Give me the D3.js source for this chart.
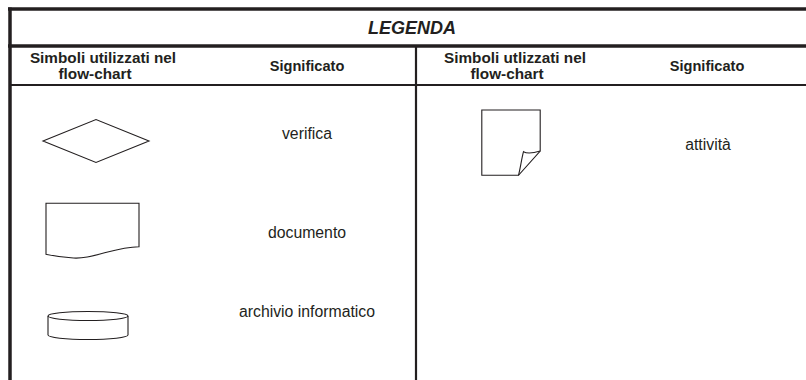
<!DOCTYPE html>
<html><head><meta charset="utf-8">
<script src="https://cdn.jsdelivr.net/npm/d3@7"></script>
<style>body{margin:0;background:#fff}svg{display:block}</style>
</head><body>
<svg id="c" width="806" height="380"></svg>
<script>
const title = "LEGENDA";
const headers = [["Simboli utilizzati nel","flow-chart"],["Significato"],["Simboli utlizzati nel","flow-chart"],["Significato"]];
const leftSymbols = ["decision","document","database"];
const leftMeanings = ["verifica","documento","archivio informatico"];
const rightSymbols = ["page"];
const rightMeanings = ["attività"];

const svg = d3.select("#c");
const W = 806, H = 380;
const font = "Liberation Sans, Arial, sans-serif";
const ink = "#231f20";

const colX = d3.scaleOrdinal().domain([0,1,2,3]).range([95,307,507,707]);

const g = svg.append("g").attr("stroke", ink);
g.append("line").attr("x1",8).attr("x2",W).attr("y1",9).attr("y2",9).attr("stroke-width",3.5);
g.append("line").attr("x1",8).attr("x2",W).attr("y1",46).attr("y2",46).attr("stroke-width",3.5);
g.append("line").attr("x1",10).attr("x2",W).attr("y1",85).attr("y2",85).attr("stroke-width",2);
g.append("line").attr("x1",10).attr("x2",10).attr("y1",7.5).attr("y2",H).attr("stroke-width",3.5);
g.append("line").attr("x1",416).attr("x2",416).attr("y1",46).attr("y2",H).attr("stroke-width",2.2);

svg.append("text").attr("x",412).attr("y",34).attr("text-anchor","middle")
  .attr("font-family",font).attr("font-size",18).attr("font-weight","bold").attr("font-style","italic")
  .attr("fill",ink).text(title);

headers.forEach((lines,i)=>{
  const t = svg.append("text").attr("text-anchor","middle").attr("font-family",font)
    .attr("font-weight","bold").attr("fill",ink);
  if(lines.length===2){
    t.attr("font-size",15.3);
    t.append("tspan").attr("x",colX(i)+8).attr("y",63).text(lines[0]);
    t.append("tspan").attr("x",colX(i)).attr("y",79).text(lines[1]);
  } else {
    t.attr("font-size",14.6);
    t.append("tspan").attr("x",colX(i)).attr("y",71).text(lines[0]);
  }
});

const rowY = d3.scaleOrdinal().domain(leftSymbols.concat(rightSymbols)).range([141,229,325,143]);
const textY = d3.scaleOrdinal().domain(leftMeanings.concat(rightMeanings)).range([139,238,317,150]);

const shapes = {
  decision: (s,cx,cy)=> s.append("path").attr("d",`M${cx-53},${cy} L${cx},${cy-21.5} L${cx+53},${cy} L${cx},${cy+21.5} Z`),
  document: (s,cx,cy)=>{
    const x0=cx-46.5,x1=cx+46.5,y0=cy-25.7;
    s.append("path").attr("d",`M${x0},${y0} L${x1},${y0} L${x1},${y0+43.4} C${x1-25},${y0+43.5} ${x0+45},${y0+57} ${x0+25},${y0+54.5} C${x0+12},${y0+53.5} ${x0+5},${y0+52} ${x0},${y0+51} Z`);
  },
  database: (s,cx,cy)=>{
    const x0=cx-40,x1=cx+40,ty=cy-9,by=cy+10,rx=40,ry=4.5;
    s.append("path").attr("d",`M${x0},${ty} L${x0},${by} A${rx},${ry} 0 0 0 ${x1},${by} L${x1},${ty}`);
    s.append("ellipse").attr("cx",cx).attr("cy",ty).attr("rx",rx).attr("ry",ry);
  },
  page: (s,cx,cy)=>{
    const x0=cx-29.2,x1=cx+29.2,y0=cy-33,y1=cy+32.3,fx=x1-21.7,fy=y1-24.3;
    s.append("path").attr("d",`M${x0},${y0} L${x1},${y0} L${x1},${fy} L${fx},${y1} L${x0},${y1} Z`);
    s.append("path").attr("d",`M${fx},${y1} C${fx+2},${y1-8} ${fx+3},${y1-16} ${fx+5},${fy+0.7} C${fx+9},${fy+3} ${fx+15},${fy+2} ${x1},${fy}`);
  }
};

const shapeG = svg.append("g").attr("fill","none").attr("stroke",ink).attr("stroke-width",1.1);
const symX = {decision:96, document:92.5, database:88, page:511};
leftSymbols.concat(rightSymbols).forEach(k=> shapes[k](shapeG, symX[k], rowY(k)));

const txt = svg.append("g").attr("font-family",font).attr("font-size",15.8).attr("fill",ink).attr("text-anchor","middle");
leftMeanings.forEach(m=> txt.append("text").attr("x",colX(1)).attr("y",textY(m)).text(m));
rightMeanings.forEach(m=> txt.append("text").attr("x",colX(3)+1).attr("y",textY(m)).text(m));
</script>
</body></html>
